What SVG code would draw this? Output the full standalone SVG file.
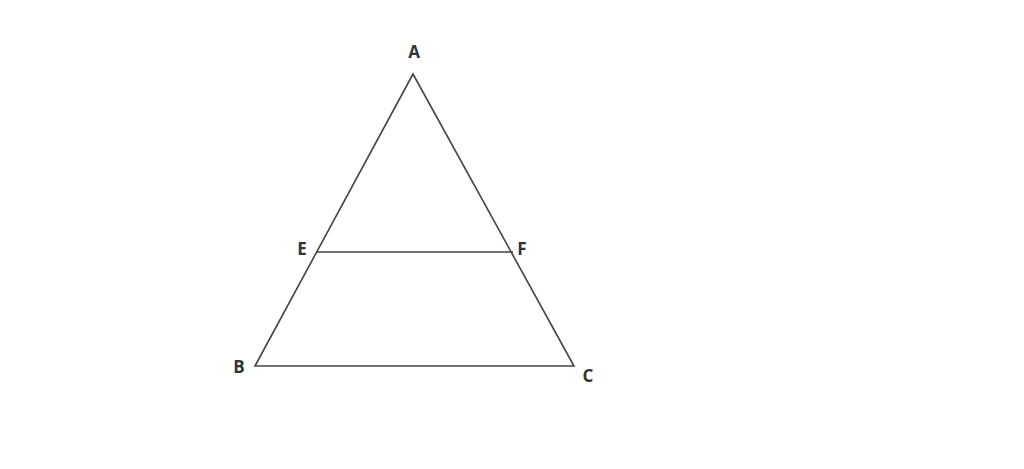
<svg xmlns="http://www.w3.org/2000/svg" width="1024" height="469" viewBox="0 0 1024 469">
<style>
.lbl{font-family:"Open Sans","Liberation Sans",sans-serif;font-weight:bold;font-size:17px;fill:#333;text-anchor:middle}
.ln{stroke:#444;stroke-width:1.6;fill:none;stroke-linejoin:miter}
</style>
<rect width="1024" height="469" fill="#fff"/>
<g id="connectors">
<path class="ln" d="M255,366 L413,74 L574,366 Z"/>
<line class="ln" x1="317" y1="252" x2="513" y2="252"/>
</g>
<g id="A"><text class="lbl" x="414" y="58">A</text></g>
<g id="B"><text class="lbl" x="239" y="373">B</text></g>
<g id="C"><text class="lbl" x="588" y="382">C</text></g>
<g id="E"><text class="lbl" x="302" y="255">E</text></g>
<g id="F"><text class="lbl" x="522" y="255">F</text></g>
</svg>
